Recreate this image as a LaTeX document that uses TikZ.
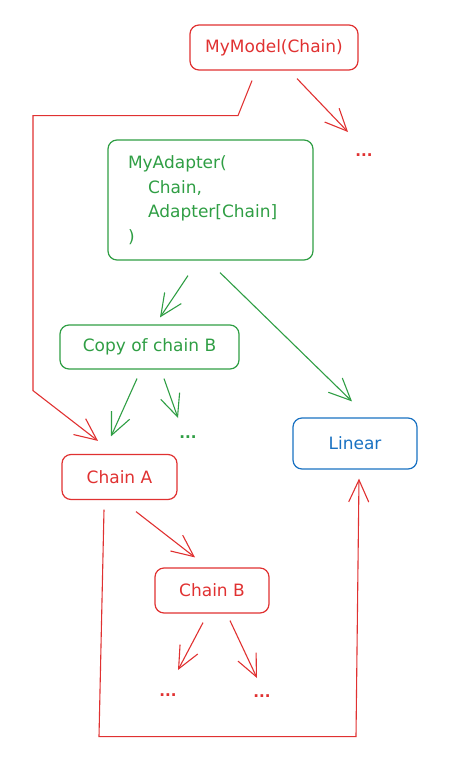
\documentclass[tikz,border=0pt]{standalone}
\usepackage{fontspec}
\setmainfont{DejaVu Sans}
\usepackage{xcolor}
\usetikzlibrary{arrows.meta,calc,positioning}
\definecolor{exred}{HTML}{E03131}
\definecolor{exgreen}{HTML}{2F9E44}
\definecolor{exblue}{HTML}{1971C2}

\begin{document}
\begin{tikzpicture}[x=1pt,y=-1pt,
        box/.style={draw,rounded corners=9pt,line width=1.2pt,inner sep=0pt,font=\fontsize{17}{20}\selectfont},
        dots/.style={font=\bfseries\fontsize{15}{18}\selectfont},
        arr/.style={line width=1.1pt,-{Straight Barb[length=22pt,width=20pt,line width=1.1pt]}}]
        \useasboundingbox (0,0) rectangle (449,772);
        \node[box,exred,minimum width=168pt,minimum height=45pt] (model) at (274,47.5) {MyModel(Chain)};
        \node[dots,exred] (dotsM) at (364,155) {...};
        \node[box,exgreen,align=left,text width=165pt,inner xsep=20pt,minimum height=120pt,font=\fontsize{17}{24.5}\selectfont] (adapter) at (210.5,200) {MyAdapter(\\\hspace*{20pt}Chain,\\\hspace*{20pt}Adapter[Chain]\\)};
        \node[box,exgreen,minimum width=179pt,minimum height=44pt] (copy) at (149.5,347) {Copy of chain B};
        \node[dots,exgreen] (dotsC) at (188,437) {...};
        \node[box,exblue,minimum width=124pt,minimum height=51pt] (linear) at (355,443.5) {Linear};
        \node[box,exred,minimum width=115pt,minimum height=45pt] (chainA) at (119.5,477) {Chain A};
        \node[box,exred,minimum width=114pt,minimum height=45pt] (chainB) at (212,590.5) {Chain B};
        \node[dots,exred] (dotsB1) at (168,695) {...};
        \node[dots,exred] (dotsB2) at (262,696) {...};
        \draw[arr,exred] ($(model.south)+(23,8)$) -- ($(dotsM)+(-16,-23)$);
        \draw[arr,exred] ($(model.south)+(-22,10)$) -- ++(-14,35) -- ++(-205,0) -- ++(0,275) -- ($(chainA.north)+(-21.5,-13)$);
        \draw[arr,exgreen] ($(adapter.south)+(-22.5,15)$) -- ($(copy.north)+(10.5,-7)$);
        \draw[arr,exgreen] ($(adapter.south)+(9.5,12)$) -- ($(linear.north)+(-3,-16)$);
        \draw[arr,exgreen] ($(copy.south)+(-12.5,9)$) -- ($(chainA.north)+(-8.5,-17.5)$);
        \draw[arr,exgreen] ($(copy.south)+(14.5,9)$) -- ($(dotsC)+(-10,-19)$);
        \draw[arr,exred] ($(chainA.south)+(16.5,11.5)$) -- ($(chainB.north)+(-17,-10)$);
        \draw[arr,exred] ($(chainB.south)+(-9,9)$) -- ($(dotsB1)+(10,-25)$);
        \draw[arr,exred] ($(chainB.south)+(18,7)$) -- ($(dotsB2)+(-5,-18)$);
        \draw[arr,exred] ($(chainA.south)+(-15.5,9.5)$) -- ++(-5,227) -- ++(257,0) -- ($(linear.south)+(4,9)$);
\end{tikzpicture}
\end{document}
